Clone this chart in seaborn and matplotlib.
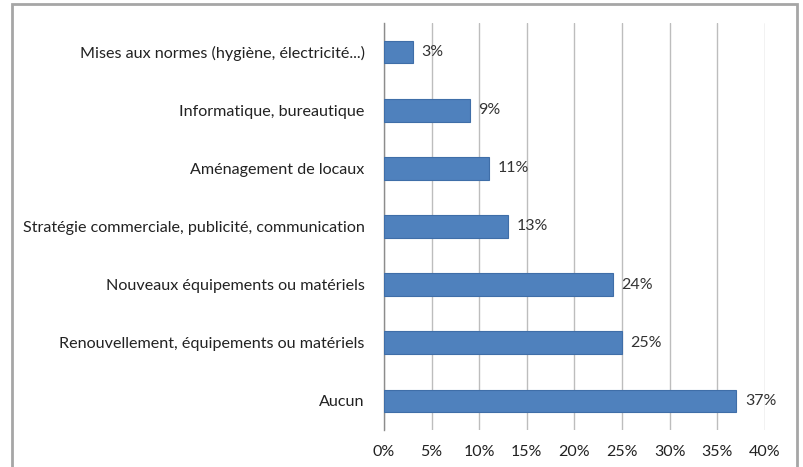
import matplotlib
matplotlib.use('Agg')
import matplotlib.pyplot as plt
import matplotlib.patches as mpatches
from matplotlib.ticker import FuncFormatter, FixedLocator
import pandas as pd
import seaborn as sns

categories = ['Mises aux normes (hygiène, électricité...)',
              'Informatique, bureautique',
              'Aménagement de locaux',
              'Stratégie commerciale, publicité, communication',
              'Nouveaux équipements ou matériels',
              'Renouvellement, équipements ou matériels',
              'Aucun']
values = [3, 9, 11, 13, 24, 25, 37]

df = pd.DataFrame({'cat': categories, 'pct': values})

sns.set_style('white')
plt.rcParams['font.family'] = ['Lato', 'DejaVu Sans']

fig = plt.figure(figsize=(8.04, 4.67), dpi=100)
ax = fig.add_axes([384 / 804, 1 - 430 / 467, (765 - 384) / 804, (430 - 23) / 467])

sns.barplot(ax=ax, data=df, x='pct', y='cat', orient='h',
            color='#4F81BD', saturation=1, width=0.39,
            edgecolor='#3F6EA8', linewidth=0.8, zorder=3)

for i, v in enumerate(values):
    ax.text(v + 0.9, i, f'{v}%', va='center', ha='left', fontsize=11.5, color='#333333')

ax.set_xlim(0, 40)
ax.set_ylim(6.5, -0.5)
ax.set_xticks(range(0, 41, 5))
ax.xaxis.set_major_formatter(FuncFormatter(lambda x, p: f'{int(x)}%'))
ax.grid(True, axis='x', color='#BDBDBD', linewidth=1, zorder=0)
ax.set_xlabel('')
ax.set_ylabel('')

for s in ['top', 'right', 'bottom']:
    ax.spines[s].set_visible(False)
ax.spines['left'].set_color('#8C8C8C')
ax.spines['left'].set_linewidth(1)

# y ticks: labels at categories, small tick marks at boundaries
ax.tick_params(axis='y', length=0, labelsize=11.6, labelcolor='#222222', pad=14)
ax.yaxis.set_minor_locator(FixedLocator([i - 0.5 for i in range(8)]))
ax.tick_params(axis='y', which='minor', length=5, color='#8C8C8C', direction='out')
ax.tick_params(axis='x', length=5, color='#BDBDBD', direction='out',
               labelsize=11.5, labelcolor='#222222', pad=6)

frame = mpatches.Rectangle((12 / 804, -0.01), (797 - 12) / 804, 1 - 4 / 467 + 0.01,
                           transform=fig.transFigure, fill=False,
                           edgecolor='#A6A6A6', linewidth=2)
fig.patches.append(frame)

fig.savefig('out.png', dpi=100)
